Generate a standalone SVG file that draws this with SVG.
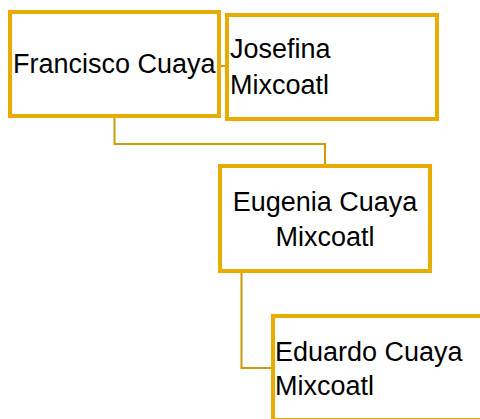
<svg xmlns="http://www.w3.org/2000/svg" width="480" height="419" viewBox="0 0 480 419">
<style>
.box{fill:#fff;stroke:#E6AC00;stroke-width:4}
.con{fill:none;stroke:#CC9C08;stroke-width:2}
.t{font-family:"Liberation Sans",Arial,sans-serif;font-size:27px;fill:#000}
</style>
<rect width="480" height="419" fill="#fff"/>
<g id="connectors">
<path class="con" d="M221,66 H225"/>
<path class="con" d="M114.5,118 V144 H325 V164"/>
<path class="con" d="M241.5,273 V368 H271"/>
</g>
<g id="francisco">
<rect class="box" x="10" y="12" width="209" height="104"/>
<text class="t" x="13" y="73">Francisco Cuaya</text>
</g>
<g id="josefina">
<rect class="box" x="227" y="15" width="210" height="104"/>
<text class="t" x="230" y="58">Josefina</text>
<text class="t" x="230" y="94">Mixcoatl</text>
</g>
<g id="eugenia">
<rect class="box" x="220" y="166" width="210" height="105"/>
<text class="t" x="325" y="211" text-anchor="middle">Eugenia Cuaya</text>
<text class="t" x="325" y="246" text-anchor="middle">Mixcoatl</text>
</g>
<g id="eduardo">
<rect class="box" x="273" y="316" width="210" height="104"/>
<text class="t" x="275" y="361">Eduardo Cuaya</text>
<text class="t" x="275" y="395">Mixcoatl</text>
</g>
</svg>
